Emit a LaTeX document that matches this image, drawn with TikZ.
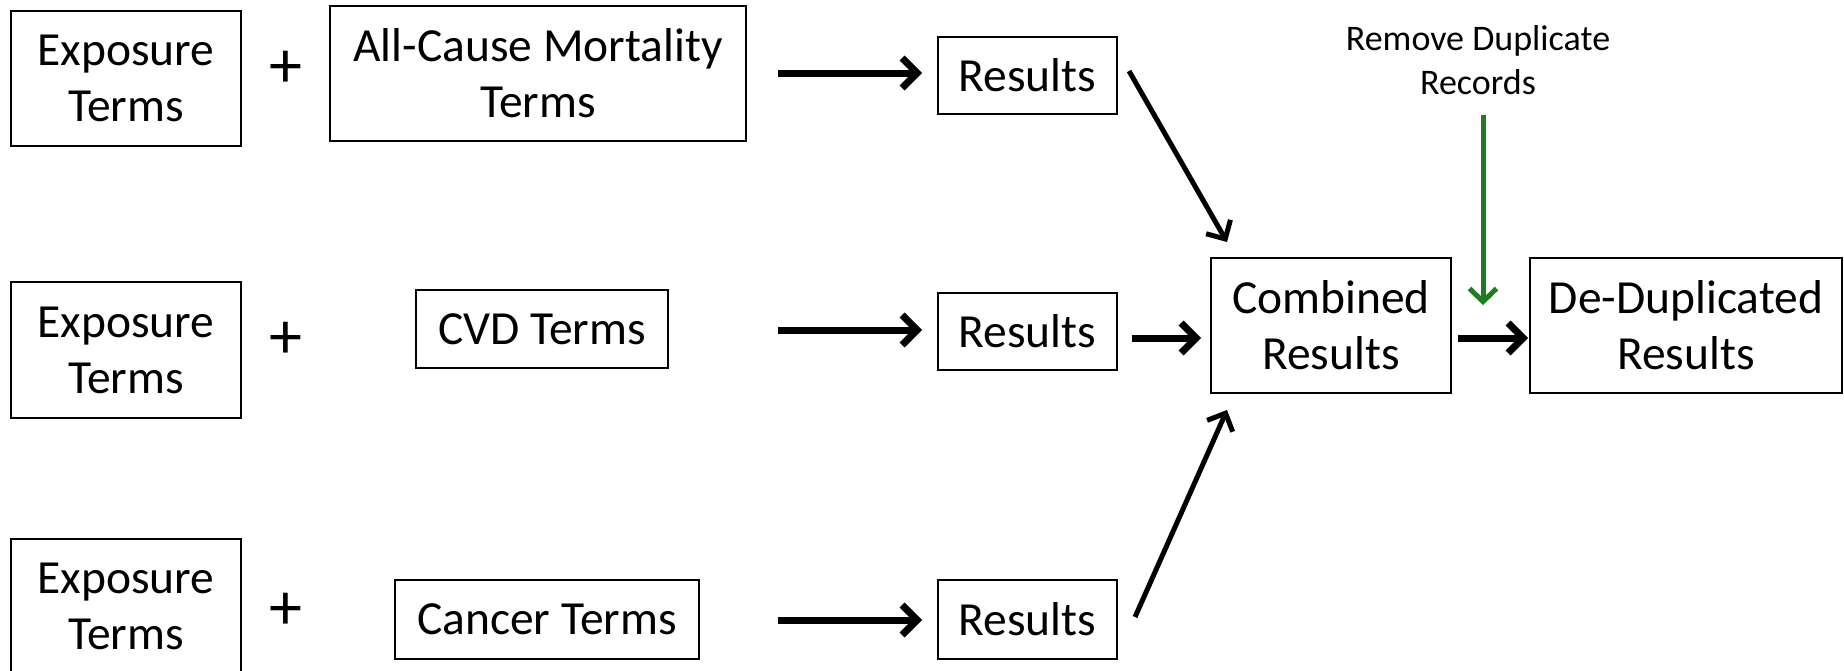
\documentclass[tikz,border=0pt]{standalone}
\usepackage{fontspec}
\setmainfont{Carlito}
\usetikzlibrary{arrows.meta}
\definecolor{arrgreen}{RGB}{30,125,30}
\newcommand\bigtxt{\fontsize{47.5pt}{56pt}\selectfont}
\newcommand\plustxt{\fontsize{66pt}{66pt}\selectfont}
\newcommand\smalltxt{\fontsize{36pt}{43.5pt}\selectfont}
\begin{document}
\begin{tikzpicture}[x=1pt,y=-1pt,
  box/.style={draw, line width=2pt, inner sep=0pt, align=center, font=\bigtxt},
  plus/.style={font=\plustxt, inner sep=0pt},
  arr/.style={line width=7pt, -{Straight Barb[length=15pt,width=30pt]}},
  darr/.style={line width=5pt, -{Straight Barb[length=14pt,width=28pt]}},
  garr/.style={line width=5pt, draw=arrgreen, -{Straight Barb[length=13pt,width=27pt]}}]
\useasboundingbox (0,0) rectangle (1844,670);
% row 1
\node[box, minimum width=230pt, minimum height=135pt] (e1) at (126,78.5) {Exposure\\Terms};
\node[plus] (p1) at (286,69) {+};
\node[box, minimum width=416pt, minimum height=135pt] (ac) at (538,73.5) {All-Cause Mortality\\Terms};
\node[box, minimum width=179pt, minimum height=77pt] (r1) at (1027.5,75) {Results};
% row 2
\node[box, minimum width=230pt, minimum height=136pt] (e2) at (126,350) {Exposure\\Terms};
\node[plus] (p2) at (286,340) {+};
\node[box, minimum width=252pt, minimum height=78pt] (cvd) at (542,329) {CVD Terms};
\node[box, minimum width=179pt, minimum height=77pt] (r2) at (1027.5,331.5) {Results};
% row 3
\node[box, minimum width=230pt, minimum height=135pt] (e3) at (126,606.5) {Exposure\\Terms};
\node[plus] (p3) at (286,611) {+};
\node[box, minimum width=304pt, minimum height=79pt] (can) at (547,619.5) {Cancer Terms};
\node[box, minimum width=179pt, minimum height=79pt] (r3) at (1027.5,619.5) {Results};
% right part
\node[box, minimum width=240pt, minimum height=135pt] (comb) at (1331,325.5) {Combined\\Results};
\node[box, minimum width=312pt, minimum height=135pt] (dd) at (1686,325.5) {De-Duplicated\\Results};
\node[font=\smalltxt, align=center, inner sep=0pt] (rm) at (1478,60) {Remove Duplicate\\Records};
% connectors
\coordinate (a1) at (778,73);
\coordinate (a2) at (778,330);
\coordinate (a3) at (778,620);
\draw[arr, shorten >=15pt] (a1) -- (a1 -| r1.west);
\draw[arr, shorten >=15pt] (a2) -- (a2 -| r2.west);
\draw[arr, shorten >=15pt] (a3) -- (a3 -| r3.west);
\coordinate (d1s) at (1129,71);
\coordinate (d1e) at (1227,242);
\coordinate (d3s) at (1135,617);
\coordinate (d3e) at (1227,410);
\draw[darr] (d1s) -- (d1e);
\draw[darr] (d3s) -- (d3e);
\coordinate (m2) at (1132,338);
\draw[arr, shorten >=9pt] (m2) -- (m2 -| comb.west);
\coordinate (m3) at (1458,338);
\draw[arr, shorten >=1pt] (m3) -- (m3 -| dd.west);
\coordinate (g1) at (1483,115);
\coordinate (g2) at (1483,305);
\draw[garr] (g1) -- (g2);
\end{tikzpicture}
\end{document}
